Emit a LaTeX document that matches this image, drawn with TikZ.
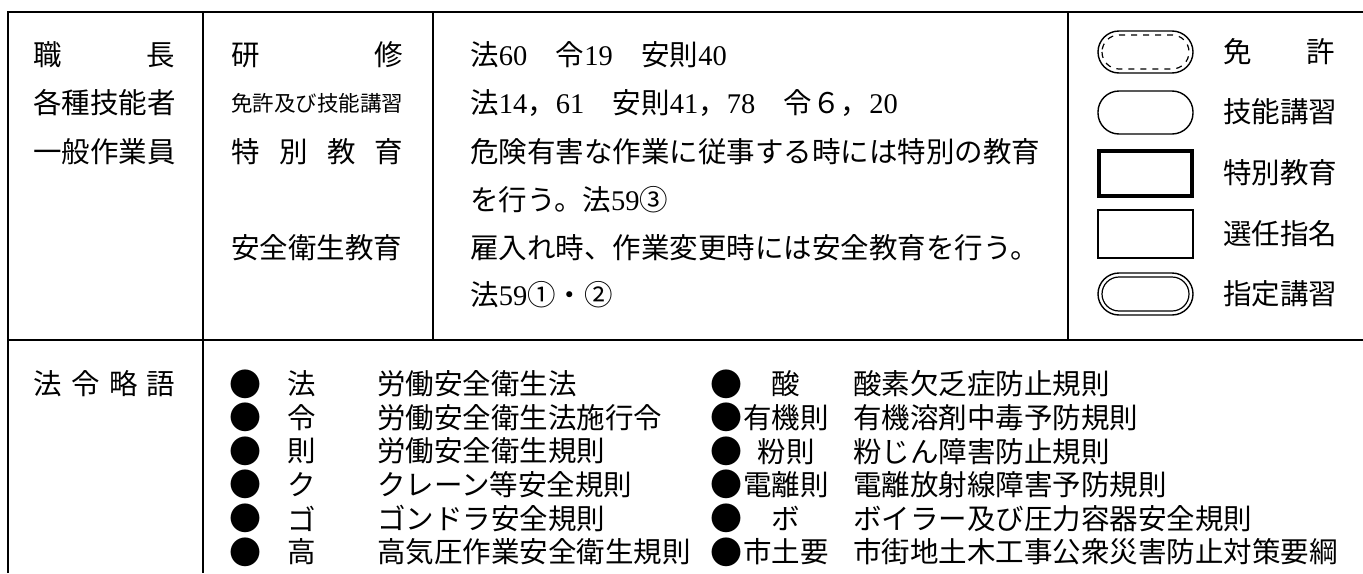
\documentclass[tikz,border=0pt]{standalone}
\usepackage{fontspec}
\newfontfamily\jpfont{Noto Sans CJK JP}
\newfontfamily\digfont{Liberation Serif}
\newcommand{\dg}[1]{{\digfont #1}}

\begin{document}
\begin{tikzpicture}[x=0.5pt,y=-0.5pt,
  txt/.style={anchor=west,inner sep=0pt,font=\jpfont\fontsize{14.25pt}{17pt}\selectfont},
  small/.style={txt,font=\jpfont\fontsize{10.75pt}{13pt}\selectfont},
  abbr/.style={txt,anchor=center},
  dot/.style={anchor=center,inner sep=0pt,font=\jpfont\fontsize{16pt}{16pt}\selectfont},
  rule/.style={line width=1.4pt},
  thin/.style={line width=0.8pt},
  pill/.style={line width=0.7pt,rounded corners=10.5pt},
  inpill/.style={line width=0.6pt,rounded corners=8.5pt}]
\useasboundingbox (0,0) rectangle (1363,573);
% frame
\draw[rule] (8,573) -- (8,12) -- (1363,12);
\draw[rule] (8,340) -- (1363,340);
\draw[thin] (203,12) -- (203,573);
\draw[thin] (433,12) -- (433,340);
\draw[thin] (1068,12) -- (1068,340);
% who
\node[txt] (shokucho) at (33,55) {\makebox[71pt][s]{職\hfill 長}};
\node[txt] (ginousha) at (33,103) {各種技能者};
\node[txt] (ippan) at (33,152) {一般作業員};
% training
\node[txt] (kenshu) at (231,55) {\makebox[86pt][s]{研\hfill 修}};
\node[small] (menkyo) at (231,103) {免許及び技能講習};
\node[txt] (tokubetsu) at (231,152) {\makebox[86pt][s]{特\hfill 別\hfill 教\hfill 育}};
\node[txt] (anzen) at (231,248) {安全衛生教育};
% law
\node[txt] (law1) at (470,55) {法\dg{60}　令\dg{19}　安則\dg{40}};
\node[txt] (law2) at (470,103) {法\dg{14}，\dg{61}　安則\dg{41}，\dg{78}　令６，\dg{20}};
\node[txt] (law3) at (470,152) {危険有害な作業に従事する時には特別の教育};
\node[txt] (law4) at (470,200) {を行う。法\dg{59}③};
\node[txt] (law5) at (470,248) {雇入れ時、作業変更時には安全教育を行う。};
\node[txt] (law6) at (470,295) {法\dg{59}①・②};
% legend
\draw[pill] (1098,31) rectangle (1193,73);
\draw[inpill,dashed] (1102,35) rectangle (1189,69);
\draw[pill] (1098,91) rectangle (1193,134);
\draw[line width=1.8pt] (1099,151) rectangle (1192,196);
\draw[line width=0.7pt] (1098,210) rectangle (1193,258);
\draw[pill] (1098,273) rectangle (1193,315);
\draw[inpill] (1102,277) rectangle (1189,311);
\node[txt] (lgmenkyo) at (1223,52) {\makebox[56pt][s]{免\hfill 許}};
\node[txt] (lgginou) at (1223,112) {技能講習};
\node[txt] (lgtoku) at (1223,173) {特別教育};
\node[txt] (lgsennin) at (1223,234) {選任指名};
\node[txt] (lgshitei) at (1223,294) {指定講習};
% abbreviations
\node[txt] (ryakugo) at (33,384) {\makebox[71pt][s]{法\hfill 令\hfill 略\hfill 語}};
\foreach \ab/\desc [count=\i] in {法/労働安全衛生法,令/労働安全衛生法施行令,則/労働安全衛生規則,
  ク/クレーン等安全規則,ゴ/ゴンドラ安全規則,高/高気圧作業安全衛生規則}{
  \node[dot] (lb\i) at (245,{384+(\i-1)*33.6}) {●};
  \node[abbr] (la\i) at (302,{384+(\i-1)*33.6}) {\ab};
  \node[txt] (ld\i) at (377,{384+(\i-1)*33.6}) {\desc};
}
\foreach \ab/\desc [count=\i] in {酸/酸素欠乏症防止規則,有機則/有機溶剤中毒予防規則,粉則/粉じん障害防止規則,
  電離則/電離放射線障害予防規則,ボ/ボイラー及び圧力容器安全規則,市土要/市街地土木工事公衆災害防止対策要綱}{
  \node[dot] (rb\i) at (726,{384+(\i-1)*33.6}) {●};
  \node[abbr] (ra\i) at (786,{384+(\i-1)*33.6}) {\ab};
  \node[txt] (rd\i) at (853,{384+(\i-1)*33.6}) {\desc};
}
\end{tikzpicture}
\end{document}
